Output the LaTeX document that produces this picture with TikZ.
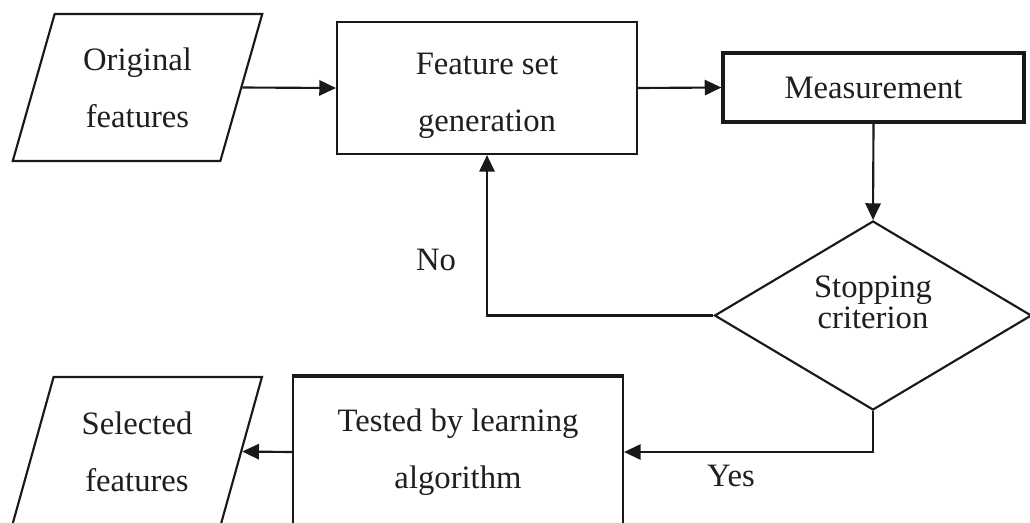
\documentclass[tikz,border=0pt]{standalone}
\usepackage{fontspec}
\setmainfont{Liberation Serif}
\usetikzlibrary{shapes.geometric,arrows.meta}
\begin{document}
\begin{tikzpicture}[x=0.75pt, y=-0.75pt,
  lbl/.style={font=\fontsize{24.5}{42.75}\selectfont, text=black!88, align=center, inner sep=0pt},
  tightlbl/.style={lbl, font=\fontsize{24.5}{23.25}\selectfont},
  stepbox/.style={lbl, rectangle, draw=black!90, line width=1.6pt},
  iobox/.style={lbl, trapezium, trapezium left angle=71, trapezium right angle=109,
    trapezium stretches=true, draw=black!90, line width=1.6pt, minimum width=187.5pt},
  decision/.style={diamond, aspect=1.68, draw=black!90, line width=1.6pt, inner sep=0pt,
    minimum width=237.75pt, minimum height=141.75pt},
  flow/.style={line width=1.6pt, draw=black!90, -{Triangle[length=12.5pt, width=11.5pt]}}
]
\useasboundingbox (0,0) rectangle (1030,522);
\clip (0,0) rectangle (1030,522);
\fill[white] (0,0) rectangle (1030,522);

% process blocks
\node[iobox, minimum height=110.25pt] (orig) at (137.5,87.5) {Original\\features};
\node[stepbox, minimum width=225pt, minimum height=99pt] (fsg) at (487,88) {};
\node[lbl] (fsgtext) at (487,96) {Feature set\\generation};
\node[stepbox, line width=2.4pt, minimum width=225.75pt, minimum height=51.75pt] (meas) at (873.5,87.5) {Measurement};
\node[decision] (dec) at (873,315.5) {};
\node[tightlbl] (dectext) at (873,302) {Stopping\\criterion};
\node[stepbox, minimum width=247.5pt, minimum height=112.5pt] (test) at (458,452) {Tested by learning\\algorithm};
\draw[line width=2.4pt, black!90] (test.north west) -- (test.north east);
\node[iobox, minimum height=111.75pt] (sel) at (137,451.5) {Selected\\features};

% branch labels
\node[lbl] (no) at (436,260) {No};
\node[lbl] (yes) at (731,476) {Yes};

% connectors
\draw[flow] (orig.east) -- (fsg.west);
\draw[flow] (fsg.east) -- (meas.west);
\draw[flow] (meas.south) -- (dec.north);
\draw[flow] (dec.west) -| (fsg.south);
\draw[flow] (dec.south) |- (test.east);
\draw[flow] (test.west) -- (sel.east);
\end{tikzpicture}
\end{document}
